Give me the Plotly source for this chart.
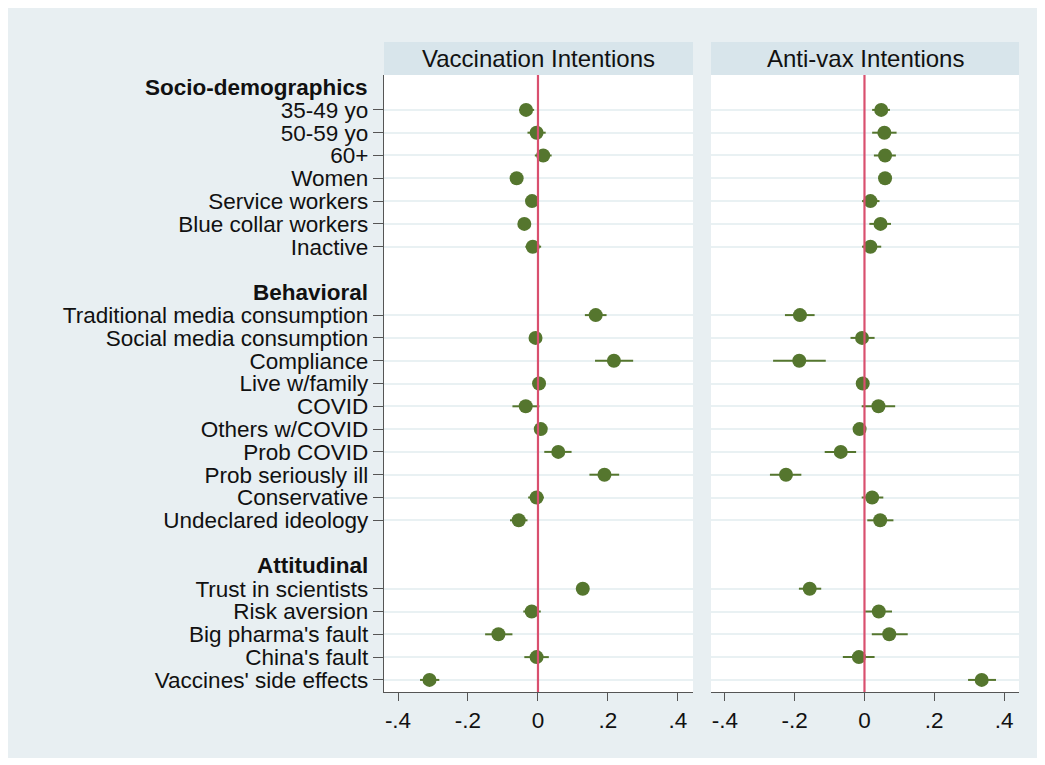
import plotly.graph_objects as go

# ---- data ----
group_names = ["Socio-demographics", "Behavioral", "Attitudinal"]
socio_items = ["35-49 yo", "50-59 yo", "60+", "Women", "Service workers",
               "Blue collar workers", "Inactive"]
behav_items = ["Traditional media consumption", "Social media consumption",
               "Compliance", "Live w/family", "COVID", "Others w/COVID",
               "Prob COVID", "Prob seriously ill", "Conservative",
               "Undeclared ideology"]
attit_items = ["Trust in scientists", "Risk aversion", "Big pharma's fault",
               "China's fault", "Vaccines' side effects"]

panel_titles = ["Vaccination Intentions", "Anti-vax Intentions"]

vacc_coef = [-0.034, -0.004, 0.015, -0.061, -0.017, -0.039, -0.015,
             0.165, -0.007, 0.217, 0.003, -0.035, 0.008, 0.058, 0.190, -0.004, -0.055,
             0.128, -0.018, -0.113, -0.004, -0.310]
vacc_lo = [-0.054, -0.030, -0.009, -0.068, -0.032, -0.057, -0.036,
           0.134, -0.014, 0.163, -0.004, -0.073, 0.001, 0.018, 0.147, -0.028, -0.080,
           0.118, -0.042, -0.151, -0.039, -0.337]
vacc_hi = [-0.011, 0.022, 0.039, -0.054, -0.002, -0.021, 0.009,
           0.196, 0.000, 0.272, 0.010, 0.004, 0.015, 0.096, 0.232, 0.017, -0.030,
           0.138, 0.008, -0.073, 0.031, -0.282]

anti_coef = [0.048, 0.057, 0.059, 0.059, 0.017, 0.046, 0.017,
             -0.185, -0.007, -0.187, -0.005, 0.040, -0.014, -0.068, -0.225, 0.022, 0.045,
             -0.157, 0.041, 0.071, -0.016, 0.336]
anti_lo = [0.022, 0.022, 0.027, 0.049, -0.007, 0.014, -0.007,
           -0.228, -0.040, -0.262, -0.013, -0.008, -0.022, -0.114, -0.271, -0.008, 0.008,
           -0.188, 0.002, 0.021, -0.062, 0.297]
anti_hi = [0.073, 0.092, 0.090, 0.069, 0.043, 0.076, 0.048,
           -0.143, 0.029, -0.111, 0.003, 0.088, -0.006, -0.024, -0.181, 0.054, 0.083,
           -0.124, 0.079, 0.124, 0.029, 0.377]

x_ticks = [-0.4, -0.2, 0, 0.2, 0.4]
x_ticklabels = ["-.4", "-.2", "0", ".2", ".4"]

# ---- row layout (header, items, blank) ----
item_labels, item_rows, header_rows = [], [], []
row = 0
for gname, items in zip(group_names, [socio_items, behav_items, attit_items]):
    header_rows.append((gname, row))
    row += 1
    for it in items:
        item_labels.append(it)
        item_rows.append(row)
        row += 1
    row += 1  # blank spacer
n_rows = item_rows[-1] + 1

# ---- styling ----
FONT = "Arial, Liberation Sans, sans-serif"
GREEN = "#55762e"
RED = "#d9506f"
OUTER = "#e8eff2"
STRIP = "#d8e5eb"
GRID = "#e9f1f3"
AXIS = "#555555"
TXT = "#111111"
FS = 22.5

# page has an 8px body margin, which gives the white frame
W, H = 1037, 750
L, R, T, B = 376, 26, 67, 66
pw = W - L - R
ph = H - T - B
dom1 = [0, (685 - L) / pw]
dom2 = [(703 - L) / pw, 1]

fig = go.Figure()
for i, (coef, lo, hi) in enumerate([(vacc_coef, vacc_lo, vacc_hi),
                                     (anti_coef, anti_lo, anti_hi)]):
    xa = "x" if i == 0 else "x2"
    ya = "y" if i == 0 else "y2"
    fig.add_trace(go.Scatter(
        x=coef, y=item_rows, mode="markers", xaxis=xa, yaxis=ya,
        marker=dict(color=GREEN, size=14, line=dict(width=0)),
        error_x=dict(type="data", symmetric=False,
                     array=[h - c for h, c in zip(hi, coef)],
                     arrayminus=[c - l for c, l in zip(coef, lo)],
                     color=GREEN, thickness=2, width=0),
        showlegend=False, hoverinfo="skip", cliponaxis=False))

yr = [n_rows - 1 + 0.53, -0.53]
xr = [-0.44, 0.443]
common_x = dict(range=xr, tickvals=x_ticks, ticktext=x_ticklabels, ticks="outside",
                ticklen=8, tickcolor=AXIS, tickwidth=1.3, showline=True, linecolor=AXIS,
                linewidth=1.3, showgrid=False, zeroline=False,
                tickfont=dict(family=FONT, size=FS, color=TXT))
fig.update_layout(
    width=W, height=H,
    margin=dict(l=L, r=R, t=T, b=B, pad=0),
    paper_bgcolor=OUTER, plot_bgcolor="white",
    xaxis=dict(domain=dom1, anchor="y", **common_x),
    xaxis2=dict(domain=dom2, anchor="y2", **common_x),
    yaxis=dict(domain=[0, 1], anchor="x", range=yr, tickvals=item_rows,
               ticktext=item_labels, ticks="outside", ticklen=10, tickcolor=AXIS,
               tickwidth=1.3, showline=True, linecolor=AXIS, linewidth=1.3,
               showgrid=True, gridcolor=GRID, gridwidth=2, zeroline=False,
               tickfont=dict(family=FONT, size=FS, color=TXT)),
    yaxis2=dict(domain=[0, 1], anchor="x2", range=yr, tickvals=item_rows,
                showticklabels=False, ticks="", showline=False,
                showgrid=True, gridcolor=GRID, gridwidth=2, zeroline=False),
)

shapes = []
for xa, ya in [("x", "y"), ("x2", "y2")]:
    shapes.append(dict(type="line", xref=xa, yref=f"{ya} domain", x0=0, x1=0,
                       y0=0, y1=1, line=dict(color=RED, width=2.2), layer="above"))
strip_h = 33 / ph
for dom in (dom1, dom2):
    shapes.append(dict(type="rect", xref="paper", yref="paper", x0=dom[0], x1=dom[1],
                       y0=1, y1=1 + strip_h, fillcolor=STRIP, line=dict(width=0),
                       layer="below"))
fig.update_layout(shapes=shapes)

annotations = []
for dom, title in zip((dom1, dom2), panel_titles):
    annotations.append(dict(x=(dom[0] + dom[1]) / 2, y=1 + strip_h / 2, xref="paper",
                            yref="paper", text=title, showarrow=False,
                            xanchor="center", yanchor="middle",
                            font=dict(family=FONT, size=24, color=TXT)))
for gname, r in header_rows:
    annotations.append(dict(x=-(L - 362) / pw, y=r, xref="paper", yref="y",
                            text=f"<b>{gname}</b>", showarrow=False, xanchor="right",
                            yanchor="middle",
                            font=dict(family=FONT, size=FS, color=TXT)))
fig.update_layout(annotations=annotations)

fig.write_html("out.html")
